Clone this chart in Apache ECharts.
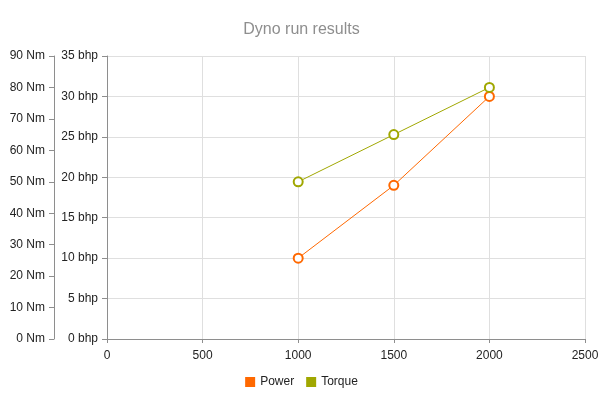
<!DOCTYPE html>
<html>
<head>
<meta charset="utf-8">
<script src="https://cdn.jsdelivr.net/npm/echarts@6/dist/echarts.min.js"></script>
<style>html,body{margin:0;padding:0;background:#fff}#c{width:603px;height:396px}</style>
</head>
<body>
<div id="c"></div>
<script>
var rpm = [1000, 1500, 2000];
var powerBhp = [10, 19, 30];
var torqueNm = [50, 65, 80];
var xTicks = [0, 500, 1000, 1500, 2000, 2500];

var font = 'Liberation Sans, Arial, sans-serif';
var axisColor = '#8e8e8e';
var labelColor = '#232323';
var chart = echarts.init(document.getElementById('c'));
chart.setOption({
  animation: false,
  title: {
    text: 'Dyno run results', left: 'center', top: 17,
    textStyle: {fontFamily: font, fontSize: 16, fontWeight: 'normal', color: '#8e8e8e'}
  },
  legend: {
    bottom: 3, left: 'center', itemWidth: 10, itemHeight: 10, itemGap: 12,
    icon: 'rect',
    textStyle: {fontFamily: font, fontSize: 12, color: labelColor},
    data: [{name: 'Power', itemStyle: {color: '#ff6800', borderWidth: 0}},
           {name: 'Torque', itemStyle: {color: '#a0a700', borderWidth: 0}}]
  },
  grid: {left: 107, right: 18, top: 56, bottom: 57, containLabel: false},
  xAxis: {
    type: 'value', min: xTicks[0], max: xTicks[xTicks.length - 1], interval: 500,
    axisLine: {show: true, lineStyle: {color: axisColor}},
    axisTick: {show: true, length: 4, lineStyle: {color: axisColor}},
    axisLabel: {fontFamily: font, fontSize: 12, color: labelColor, margin: 11,
      formatter: function (v) { return String(v); }},
    splitLine: {show: true, lineStyle: {color: '#dfdfdf'}}
  },
  yAxis: [
    {
      type: 'value', position: 'left', min: 0, max: 35, interval: 5,
      axisLine: {show: true, lineStyle: {color: axisColor}},
      axisTick: {show: true, length: 5, lineStyle: {color: axisColor}},
      axisLabel: {fontFamily: font, fontSize: 12, color: labelColor, margin: 9,
        formatter: function (v) { return v + ' bhp'; }},
      splitLine: {show: true, lineStyle: {color: '#dfdfdf'}}
    },
    {
      type: 'value', position: 'left', offset: 53, min: 0, max: 90, interval: 10,
      axisLine: {show: true, lineStyle: {color: axisColor}},
      axisTick: {show: true, length: 5, lineStyle: {color: axisColor}},
      axisLabel: {fontFamily: font, fontSize: 12, color: labelColor, margin: 9,
        formatter: function (v) { return v + ' Nm'; }},
      splitLine: {show: false}
    }
  ],
  series: [
    {
      name: 'Power', type: 'line', yAxisIndex: 0,
      data: rpm.map(function (r, i) { return [r, powerBhp[i]]; }),
      symbol: 'circle', symbolSize: 9, showAllSymbol: true,
      itemStyle: {color: '#fff', borderColor: '#ff6800', borderWidth: 2},
      lineStyle: {color: '#ff6800', width: 1}
    },
    {
      name: 'Torque', type: 'line', yAxisIndex: 1,
      data: rpm.map(function (r, i) { return [r, torqueNm[i]]; }),
      symbol: 'circle', symbolSize: 9, showAllSymbol: true,
      itemStyle: {color: '#fff', borderColor: '#a0a700', borderWidth: 2},
      lineStyle: {color: '#a0a700', width: 1}
    }
  ]
});
</script>
</body>
</html>
